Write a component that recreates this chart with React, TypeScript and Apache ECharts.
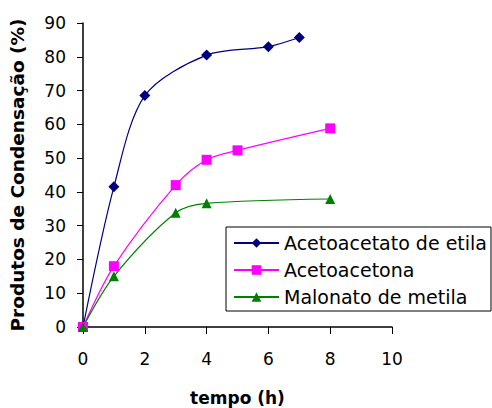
import React, { useEffect, useRef } from "react";
import * as echarts from "echarts";

const seriesNames = ["Acetoacetato de etila", "Acetoacetona", "Malonato de metila"];
const acetoacetatoData: [number, number][] = [[0, 0], [1, 41.5], [2, 68.5], [4, 80.5], [6, 83], [7, 85.7]];
const acetoacetonaData: [number, number][] = [[0, 0], [1, 18], [3, 42], [4, 49.5], [5, 52.3], [8, 58.8]];
const malonatoData: [number, number][] = [[0, 0], [1, 15], [3, 33.8], [4, 36.6], [8, 37.9]];
const colors = ["#000080", "#FF00FF", "#008000"];
const symbols = ["diamond", "rect", "triangle"];
const FONT = "DejaVu Sans, Liberation Sans, Arial, sans-serif";

export default function App() {
  const ref = useRef<HTMLDivElement>(null);
  useEffect(() => {
    if (!ref.current) return;
    const chart = echarts.init(ref.current, null, { renderer: "svg" });
    const datasets = [acetoacetatoData, acetoacetonaData, malonatoData];
    chart.setOption({
      animation: false,
      backgroundColor: "#ffffff",
      textStyle: { fontFamily: FONT },
      grid: { left: 83, right: 100, top: 23, bottom: 81, outerBoundsMode: "none", containLabel: false },
      legend: {
        orient: "vertical",
        left: 226,
        top: 227,
        itemWidth: 45,
        itemHeight: 12,
        itemGap: 5,
        padding: [5, 4, 3, 7],
        borderColor: "#000",
        borderWidth: 1,
        textStyle: { fontSize: 19, lineHeight: 22, color: "#000", fontFamily: FONT },
        data: seriesNames,
      },
      xAxis: {
        type: "value",
        min: 0,
        max: 10,
        interval: 2,
        name: "tempo (h)",
        nameLocation: "middle",
        nameGap: 62,
        nameTextStyle: { fontSize: 17, fontWeight: "bold", color: "#000", fontFamily: FONT },
        axisLine: { lineStyle: { color: "#000", width: 1.5 } },
        axisTick: { show: true, length: 7, lineStyle: { color: "#000" } },
        axisLabel: { fontSize: 17, color: "#000", margin: 23, fontFamily: FONT },
        splitLine: { show: false },
      },
      yAxis: {
        type: "value",
        min: 0,
        max: 90,
        interval: 10,
        name: "Produtos de Condensação (%)",
        nameLocation: "middle",
        nameGap: 56,
        nameTextStyle: { fontSize: 18.5, fontWeight: "bold", color: "#000", fontFamily: FONT },
        axisLine: { show: true, lineStyle: { color: "#000", width: 1.5 } },
        axisTick: { show: true, length: 6, lineStyle: { color: "#000" } },
        axisLabel: { fontSize: 17, color: "#000", margin: 17, fontFamily: FONT },
        splitLine: { show: false },
      },
      series: datasets.map((d, i) => ({
        name: seriesNames[i],
        type: "line",
        data: d,
        smooth: 0.3,
        symbol: symbols[i],
        symbolSize: i === 0 ? 11 : 10,
        itemStyle: { color: colors[i] },
        lineStyle: { color: colors[i], width: 1.2 },
      })),
    });
    return () => chart.dispose();
  }, []);
  return <div ref={ref} style={{ position: "fixed", left: 0, top: 0, width: 492, height: 408 }} />;
}
